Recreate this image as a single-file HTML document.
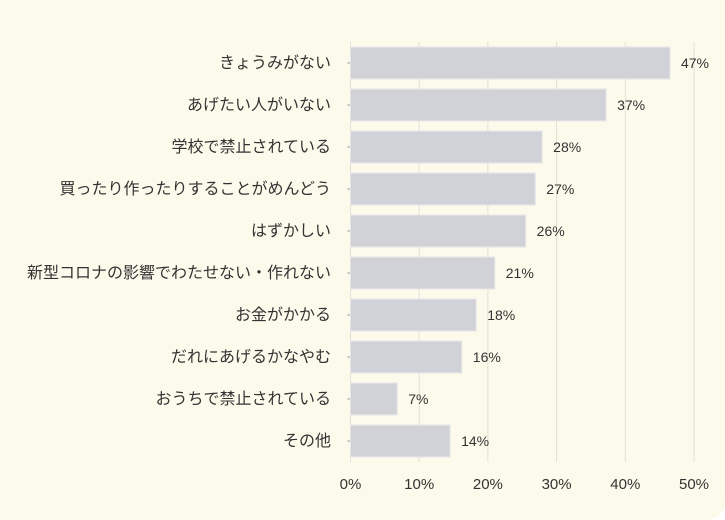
<!DOCTYPE html>
<html><head><meta charset="utf-8"><style>
body{margin:0;background:#fff}
#wrap{position:relative;width:725px;height:520px;background:#fcfaeb;border-radius:0 0 18px 0;overflow:hidden}
svg text{font-family:"Liberation Sans","Noto Sans CJK JP",sans-serif;fill:#333}
</style></head><body>
<div id="wrap">
<svg id="chart" width="725" height="520"></svg>
</div>
<script>
const categories=["きょうみがない","あげたい人がいない","学校で禁止されている","買ったり作ったりすることがめんどう","はずかしい","新型コロナの影響でわたせない・作れない","お金がかかる","だれにあげるかなやむ","おうちで禁止されている","その他"];
const values=[46.5,37.2,27.9,26.9,25.5,21.0,18.3,16.2,6.8,14.5];
const valueLabels=["47%","37%","28%","27%","26%","21%","18%","16%","7%","14%"];
const ticks=[0,10,20,30,40,50];
const tickLabels=["0%","10%","20%","30%","40%","50%"];
const NS="http://www.w3.org/2000/svg";
const svg=document.getElementById('chart');
const x0=350.5,x1=694,yTop=42,yBot=462,step=42,barH=32,firstTop=47;
const xs=v=>x0+(x1-x0)*v/50;
const yc=i=>firstTop+barH/2+i*step;
function mk(t,a){const e=document.createElementNS(NS,t);for(const k in a)e.setAttribute(k,a[k]);svg.appendChild(e);return e;}
ticks.forEach((t,i)=>{
 const g=mk('line',{x1:xs(t),x2:xs(t),y1:yTop,y2:yBot,stroke:'#e2e0d6','stroke-width':1});
 
 
 const l=mk('text',{x:xs(t),y:489,'text-anchor':'middle','font-size':15});
 l.textContent=tickLabels[i];
 
 
});
categories.forEach((c,i)=>{
 const tk=mk('line',{x1:x0-3,x2:x0,y1:yc(i),y2:yc(i),stroke:'#999'});
 
 
 const b=mk('rect',{x:x0,y:yc(i)-barH/2,width:xs(values[i])-x0,height:barH,fill:'#d1d2d8',stroke:'#e6e6ea','stroke-width':1});
 
 
 const v=mk('text',{x:xs(values[i])+11,y:yc(i)+5,'font-size':14});
 v.textContent=valueLabels[i];
 
 
 const t=mk('text',{x:331,y:yc(i)+5,'text-anchor':'end','font-size':16});
 t.textContent=c;
 
 
});
</script>
</body></html>
